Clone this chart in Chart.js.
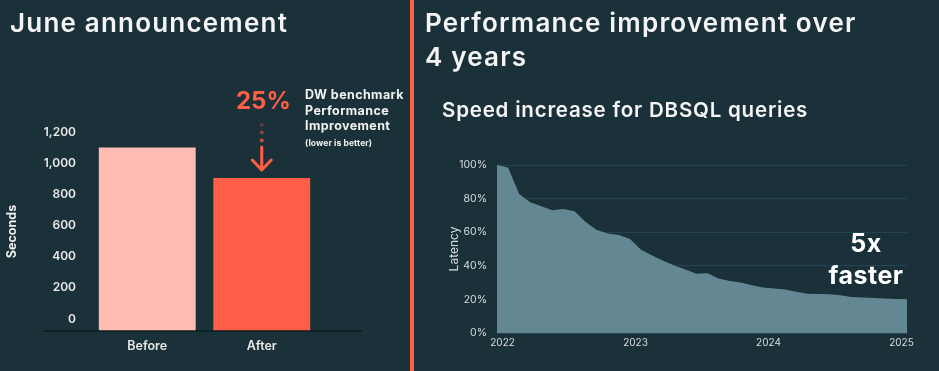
<!DOCTYPE html>
<html>
<head>
<meta charset="utf-8">
<script src="https://cdn.jsdelivr.net/npm/chart.js@4.4.1/dist/chart.umd.min.js"></script>
<style>
  body { margin: 0; background: #1b3139; font-family: Inter, "DejaVu Sans", sans-serif; color: #f4f4f4; }
  #page { position: relative; width: 939px; height: 371px; overflow: hidden; background: #1b3139; }
  .abs { position: absolute; white-space: nowrap; }
  canvas { position: absolute; top: 0; }
  .title { font-size: 26px; font-weight: 600; line-height: 34px; letter-spacing: 1.2px; }
  .note { font-size: 12.5px; font-weight: 700; line-height: 15.5px; color: #f2f2f2; letter-spacing: 0.4px; }
</style>
</head>
<body>
<div id="page">
  <canvas id="bar-chart" width="405" height="371" style="left:0"></canvas>
  <canvas id="latency-chart" width="525" height="371" style="left:414px"></canvas>

  <div class="abs" style="left:410px;top:0;width:4px;height:371px;background:#ff5f46"></div>

  <div class="abs title" style="left:10px;top:6px">June announcement</div>
  <div class="abs title" style="left:425px;top:6px">Performance improvement over<br>4 years</div>
  <div class="abs" style="left:442px;top:98px;font-size:20.5px;font-weight:600;line-height:24px;letter-spacing:0.8px">Speed increase for DBSQL queries</div>

  <div class="abs" style="left:236px;top:86px;font-size:24px;font-weight:700;color:#ff5f46;line-height:29px">25%</div>
  <div class="abs note" style="left:305px;top:87px">DW benchmark<br>Performance<br>Improvement<br><span style="font-size:8.5px;line-height:11px;letter-spacing:0.1px;display:inline-block">(lower is better)</span></div>

  <div class="abs" style="left:806px;top:227px;width:120px;text-align:center;font-size:25px;font-weight:700;line-height:32px;letter-spacing:0.5px;color:#fff">5x<br>faster</div>
</div>

<script>
// left chart: DW benchmark
const barLabels = ["Before", "After"];
const barValues = [1100, 905];
const barColors = ["#ffbcb3", "#ff5f46"];
const secondTicks = [0, 200, 400, 600, 800, 1000, 1200];
const barFloor = -77;

// right chart: latency of DBSQL queries, monthly
const months = [
  "2021-12",
  "2022-01", "2022-02", "2022-03", "2022-04", "2022-05", "2022-06",
  "2022-07", "2022-08", "2022-09", "2022-10", "2022-11", "2022-12",
  "2023-01", "2023-02", "2023-03", "2023-04", "2023-05", "2023-06",
  "2023-07", "2023-08", "2023-09", "2023-10", "2023-11", "2023-12",
  "2024-01", "2024-02", "2024-03", "2024-04", "2024-05", "2024-06",
  "2024-07", "2024-08", "2024-09", "2024-10", "2024-11", "2024-12",
  "2025-01"
];
const latency = [
  100,
  98.5, 82.8, 77.9, 75.5, 73.0, 73.8, 72.5, 66.0, 61.3, 59.2, 58.4, 56.0,
  49.5, 46.2, 43.0, 40.2, 37.8, 35.2, 35.5, 32.4, 31.0, 30.1, 28.4, 27.1,
  26.5, 25.9, 24.6, 23.4, 23.2, 23.0, 22.5, 21.4, 21.1, 20.9, 20.5, 20.3,
  20.1
];
const yearTicks = [2022, 2023, 2024, 2025];
const pctTicks = [0, 20, 40, 60, 80, 100];

const FONT = "Inter, 'DejaVu Sans', sans-serif";

// dark rule under the bars, wider than the plot area
const baseLine = {
  id: "baseLine",
  afterDatasetsDraw(chart) {
    const ctx = chart.ctx;
    const y = chart.scales.y.getPixelForValue(barFloor);
    ctx.save();
    ctx.strokeStyle = "#0e1c21";
    ctx.lineWidth = 1.5;
    ctx.beginPath();
    ctx.moveTo(chart.chartArea.left - 47, y);
    ctx.lineTo(chart.chartArea.right + 43, y);
    ctx.stroke();
    ctx.restore();
  },
};

// dotted arrow pointing down at the "After" bar
const arrow = {
  id: "arrow",
  afterDatasetsDraw(chart) {
    const bar = chart.getDatasetMeta(0).data[1];
    const ctx = chart.ctx;
    const x = bar.x;
    const tip = bar.y - 8;
    ctx.save();
    ctx.fillStyle = "#ff5f46";
    [[tip - 45, 0.3], [tip - 37.5, 0.5], [tip - 29.5, 0.75]].forEach(([y, a]) => {
      ctx.globalAlpha = a;
      ctx.beginPath();
      ctx.arc(x, y, 1.9, 0, Math.PI * 2);
      ctx.fill();
    });
    ctx.globalAlpha = 1;
    ctx.strokeStyle = "#ff5f46";
    ctx.lineWidth = 3;
    ctx.lineCap = "round";
    ctx.lineJoin = "round";
    ctx.beginPath();
    ctx.moveTo(x, tip - 23);
    ctx.lineTo(x, tip);
    ctx.moveTo(x - 9.5, tip - 10);
    ctx.lineTo(x, tip);
    ctx.lineTo(x + 9.5, tip - 10);
    ctx.stroke();
    ctx.restore();
  },
};

new Chart(document.getElementById("bar-chart"), {
  type: "bar",
  data: {
    labels: barLabels,
    datasets: [
      {
        data: barValues,
        backgroundColor: barColors,
        base: barFloor,
        borderWidth: 0,
        barPercentage: 1,
        categoryPercentage: 0.846,
      },
    ],
  },
  options: {
    responsive: false,
    animation: false,
    layout: { padding: { left: 0, right: 86, top: 132, bottom: 0 } },
    plugins: { legend: { display: false }, tooltip: { enabled: false } },
    scales: {
      x: {
        grid: { display: false, drawTicks: false },
        border: { display: false },
        ticks: { color: "#e8e8e8", padding: 8, font: { family: FONT, size: 12.5, weight: "600" } },
        afterFit(s) { s.height = 40; },
      },
      y: {
        min: barFloor,
        max: 1200,
        grid: { display: false, drawTicks: false },
        border: { display: false },
        afterBuildTicks(s) { s.ticks = secondTicks.map((v) => ({ value: v })); },
        ticks: {
          color: "#e8e8e8",
          padding: 14,
          font: { family: FONT, size: 12, weight: "600" },
          callback: (v) => v.toLocaleString("en-US"),
        },
        title: {
          display: true,
          text: "Seconds",
          color: "#f0f0f0",
          padding: { top: 5 },
          font: { family: FONT, size: 12.5, weight: "700" },
        },
        afterFit(s) { s.width = 90; },
      },
    },
  },
  plugins: [baseLine, arrow],
});

const monthPos = months.map((m) => {
  const [y, mo] = m.split("-").map(Number);
  return y + (mo - 0.5) / 12;
});

new Chart(document.getElementById("latency-chart"), {
  type: "line",
  data: {
    datasets: [
      {
        data: latency.map((v, i) => ({ x: monthPos[i], y: v })),
        fill: "origin",
        backgroundColor: "#638893",
        borderWidth: 0,
        pointRadius: 0,
        tension: 0,
      },
    ],
  },
  options: {
    responsive: false,
    animation: false,
    layout: { padding: { left: 0, right: 32, top: 165, bottom: 0 } },
    plugins: { legend: { display: false }, tooltip: { enabled: false } },
    scales: {
      x: {
        type: "linear",
        min: monthPos[0],
        max: monthPos[monthPos.length - 1],
        grid: { display: false, drawTicks: false },
        border: { display: false },
        afterBuildTicks(s) { s.ticks = yearTicks.map((v) => ({ value: v })); },
        ticks: {
          color: "#d6dcdf",
          padding: 4,
          font: { family: FONT, size: 10 },
          callback: (v) => String(v),
        },
        afterFit(s) { s.height = 38; },
      },
      y: {
        min: 0,
        max: 100,
        grid: { color: "#224455", lineWidth: 1, drawTicks: false },
        border: { display: false },
        afterBuildTicks(s) { s.ticks = pctTicks.map((v) => ({ value: v })); },
        ticks: {
          color: "#d6dcdf",
          padding: 10,
          font: { family: FONT, size: 10.5 },
          callback: (v) => v + "%",
        },
        title: {
          display: true,
          text: "Latency",
          color: "#d6dcdf",
          padding: { top: 33 },
          font: { family: FONT, size: 12 },
        },
        afterFit(s) { s.width = 83; },
      },
    },
  },
});
</script>
</body>
</html>
